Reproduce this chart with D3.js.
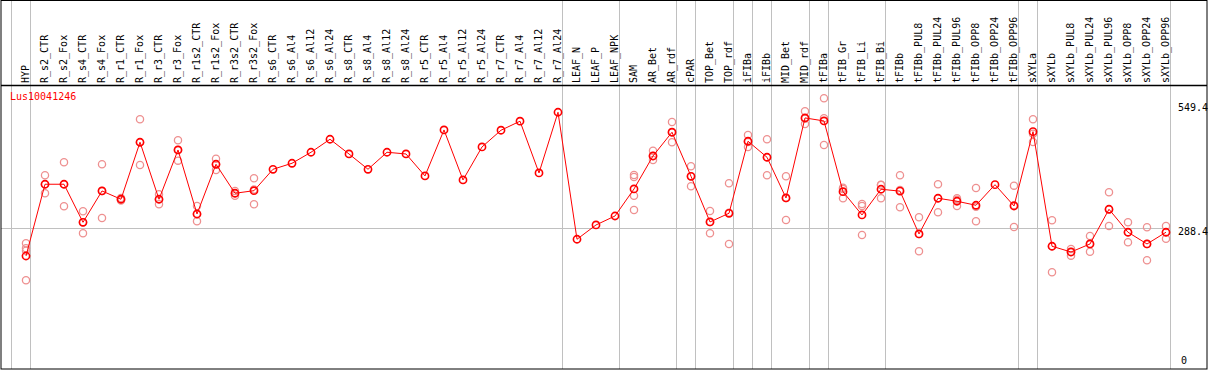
<!DOCTYPE html>
<html>
<head>
<meta charset="utf-8">
<script src="https://cdn.jsdelivr.net/npm/d3@7"></script>
<style>
body { margin: 0; background: #fff; }
text { font-family: "DejaVu Sans Mono", monospace; font-size: 10px; }
</style>
</head>
<body>
<div id="graph-div"></div>
<script>
// sample names across the top
const samples = ["HYP","R_s2_CTR","R_s2_Fox","R_s4_CTR","R_s4_Fox","R_r1_CTR","R_r1_Fox","R_r3_CTR","R_r3_Fox",
  "R_r1s2_CTR","R_r1s2_Fox","R_r3s2_CTR","R_r3s2_Fox","R_s6_CTR","R_s6_Al4","R_s6_Al12","R_s6_Al24",
  "R_s8_CTR","R_s8_Al4","R_s8_Al12","R_s8_Al24","R_r5_CTR","R_r5_Al4","R_r5_Al12","R_r5_Al24",
  "R_r7_CTR","R_r7_Al4","R_r7_Al12","R_r7_Al24","LEAF_N","LEAF_P","LEAF_NPK","SAM","AR_Bet","AR_rdf",
  "cPAR","TOP_Bet","TOP_rdf","iFIBa","iFIBb","MID_Bet","MID_rdf","tFIBa","tFIB_Gr","tFIB_Li","tFIB_Bi",
  "tFIBb","tFIBb_PUL8","tFIBb_PUL24","tFIBb_PUL96","tFIBb_OPP8","tFIBb_OPP24","tFIBb_OPP96",
  "sXYLa","sXYLb","sXYLb_PUL8","sXYLb_PUL24","sXYLb_PUL96","sXYLb_OPP8","sXYLb_OPP24","sXYLb_OPP96"]

// mean expression per sample
const means = [229.1,379.6,379.6,299.8,365.5,348.1,467.7,348.1,451.5,317.2,421.5,360.7,366.1,
  411.0,423.6,446.7,474.0,443.1,411.0,446.7,443.1,397.0,493.5,388.6,457.8,492.9,511.8,403.3,530.6,
  264.2,294.2,313.0,369.7,438.9,488.7,396.3,300.5,318.7,469.8,436.2,350.8,518.7,512.4,364.0,315.2,
  369.1,365.1,275.3,350.2,343.9,335.5,378.7,334.0,489.9,249.5,237.5,254.3,327.1,278.9,254.3,278.9]

// replicate values per sample (empty where none shown)
const replicates = [
  [255.8,245.3,240.2,178.1],[398.4,360.7,379.6],[425.7,333.4,379.6],[322.9,276.8,299.8],
  [421.5,308.9,365.5],[350.8,345.6,348.1],[515.9,420.1,467.7],[358.6,337.6,348.1],
  [471.9,429.1,451.5],[334.0,301.9,317.2],[433.3,409.6,421.5],[365.5,355.6,360.7],
  [392.2,337.6,368.5],
  [],[],[],[],[],[],[],[],[],[],[],[],[],[],[],[],
  [],[],[],
  [399.1,394.9,355.6,325.6],[450.1,430.6,438.9],[510.3,467.7,488.7],[417.3,375.4,396.3],
  [323.5,276.8,300.5],[381.7,254.3,320.0],[483.0,457.8,468.3],[474.0,398.4,436.2],
  [396.3,304.7,350.8],[532.7,506.1,517.2],[560.0,518.0,462.0],[372.4,350.2,369.7],
  [338.2,334.0,273.2],[378.7,350.2,378.1],[398.4,331.3,367.6],[310.3,239.0,275.3],
  [379.6,320.8,350.2],[350.2,334.0,347.3],[371.8,301.9,332.6],[],[376.6,290.0,335.5],
  [515.9,468.3,485.7],[304.0,194.9,249.5],[243.8,229.8,237.5],[271.1,238.1,254.3],
  [362.8,292.1,327.1],[299.8,257.9,278.9],[289.3,220.1,254.3],[292.1,265.4,278.9]]

// index of last sample in each tissue group (-1 = left edge)
const groupEnds = [-1,0,28,31,34,35,37,38,39,41,42,45,52,53,60]
const yTicks = [0, 288.4, 549.4]
const geneName = "Lus10041246"

const W = 1209, H = 370
const svg = d3.select("#graph-div").append("svg")
  .attr("width", W).attr("height", H)

const x = d3.scalePoint().domain(samples).range([26, 1166])
const step = x.step()
const y = d3.scaleLinear().domain([0, 549.4]).range([365.2, 103.3])

// group separators
svg.append("g").selectAll("line").data(groupEnds).join("line")
  .attr("x1", d => Math.round(26 + d * step + 4) + 0.5)
  .attr("x2", d => Math.round(26 + d * step + 4) + 0.5)
  .attr("y1", 0).attr("y2", 369)
  .attr("stroke", "#c0c0c0").attr("stroke-width", 1)

// grid line at middle tick
svg.append("line")
  .attr("x1", 1).attr("x2", 1170)
  .attr("y1", Math.round(y(288.4)) + 0.5).attr("y2", Math.round(y(288.4)) + 0.5)
  .attr("stroke", "#c0c0c0")

// borders
svg.append("rect").attr("x", 1).attr("y", 0.5).attr("width", 1206).attr("height", 368.5)
  .attr("fill", "none").attr("stroke", "#000").attr("stroke-width", 1)
svg.append("line").attr("x1", 1).attr("x2", 1207).attr("y1", 85.5).attr("y2", 85.5)
  .attr("stroke", "#000").attr("stroke-width", 1.3)

// sample labels
svg.append("g").selectAll("text").data(samples).join("text")
  .attr("transform", d => `translate(${x(d) + 2.5},83) rotate(-90)`)
  .attr("fill", "#000")
  .text(d => d)

// y tick labels
svg.append("g").selectAll("text").data(yTicks).join("text")
  .attr("x", d => d === 0 ? 1181 : 1178)
  .attr("y", d => y(d))
  .attr("dy", d => d === 0 ? "-0.1em" : "0.72em")
  .attr("fill", "#000")
  .text(d => d === 0 ? "0" : d3.format(".1f")(d))

svg.append("text").attr("x", 10).attr("y", 100).attr("fill", "#ff0000").text(geneName)

// replicate points
const repPts = []
replicates.forEach((reps, i) => reps.forEach(v => repPts.push({s: samples[i], v: v})))
svg.append("g").selectAll("circle").data(repPts).join("circle")
  .attr("cx", d => x(d.s)).attr("cy", d => y(d.v)).attr("r", 3.6)
  .attr("fill", "none").attr("stroke", "#ee9090").attr("stroke-width", 1.3)

// mean line
const line = d3.line().x((d, i) => x(samples[i])).y(d => y(d))
svg.append("path").datum(means).attr("d", line)
  .attr("fill", "none").attr("stroke", "#ff0000").attr("stroke-width", 1)

svg.append("g").selectAll("circle").data(means).join("circle")
  .attr("cx", (d, i) => x(samples[i])).attr("cy", d => y(d)).attr("r", 3.6)
  .attr("fill", "none").attr("stroke", "#ff0000").attr("stroke-width", 1.6)
</script>
</body>
</html>
